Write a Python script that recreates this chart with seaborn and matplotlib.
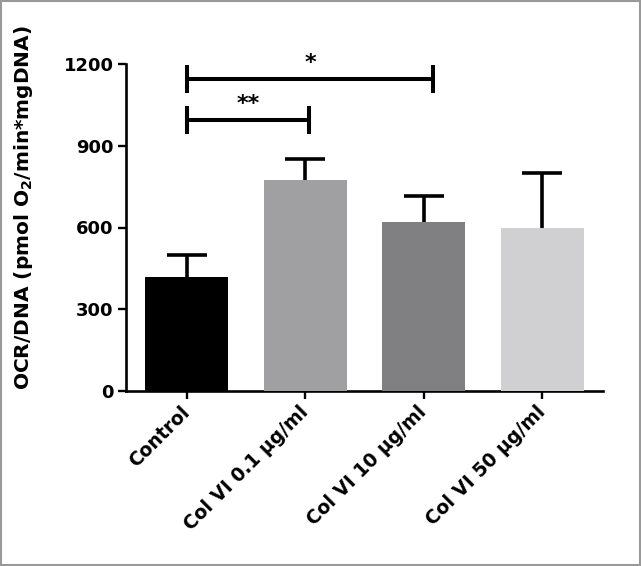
import matplotlib
matplotlib.use("Agg")
import matplotlib.pyplot as plt
import seaborn as sns
import pandas as pd
import numpy as np
from matplotlib.patches import Rectangle

categories = ["Control", "Col VI 0.1 μg/ml", "Col VI 10 μg/ml", "Col VI 50 μg/ml"]
means = [418, 774, 619, 597]
errors = [82, 78, 98, 202]
colors = ["#000000", "#a0a0a3", "#808083", "#d0d0d2"]
yticks = [0, 300, 600, 900, 1200]
# significance: (left index, right index, bracket height value, label)
sig_pairs = [(0, 1, 994, "**"), (0, 2, 1145, "*")]

sns.set_theme(style="ticks")
plt.rcParams["font.family"] = ["DejaVu Sans"]
plt.rcParams["mathtext.fontset"] = "dejavusans"
for k in ["text.color", "axes.labelcolor", "xtick.color", "ytick.color"]:
    plt.rcParams[k] = "black"

df = pd.DataFrame({"group": categories, "value": means})

fig = plt.figure(figsize=(6.41, 5.66), dpi=100)
fig.patch.set_facecolor("white")
ax = fig.add_axes([126/641, 1-391/566, (603-126)/641, (391-64)/566])

sns.barplot(data=df, x="group", y="value", hue="group", palette=colors,
            errorbar=None, width=0.70, legend=False, ax=ax, saturation=1,
            zorder=3, linewidth=0)
x = np.arange(len(categories))
ax.errorbar(x, means, yerr=[means, errors], fmt="none",
            ecolor="black", elinewidth=2.6, capsize=14.5, capthick=2.6, zorder=2)

ax.set_xlim(-0.51, 3.51)
ax.set_ylim(0, 1200)
ax.set_yticks(yticks)
ax.set_yticklabels([str(v) for v in yticks], fontsize=13, fontweight="bold")
ax.set_xticks(x)
ax.set_xticklabels(categories, rotation=45, ha="right", va="center",
                   rotation_mode="anchor", fontsize=13.5, fontweight="bold")
ax.set_xlabel("")
ax.set_ylabel(r"OCR/DNA (pmol O$_\mathbf{2}$/min*mgDNA)", fontsize=14.5,
              fontweight="bold")
ax.yaxis.set_label_coords(-0.19, 0.56)

for s in ["top", "right"]:
    ax.spines[s].set_visible(False)
for s in ["left", "bottom"]:
    ax.spines[s].set_linewidth(1.9)
    ax.spines[s].set_color("black")
ax.tick_params(axis="both", width=1.7, length=6, color="black", pad=3)
ax.tick_params(axis="x", pad=7)
ax.set_facecolor("white")

# significance brackets
offs = [0, 0.033, 0.08]
for li, ri, h, lab in sig_pairs:
    xl = x[li] + offs[li]
    xr = x[ri] + offs[ri]
    ax.plot([xl, xr], [h, h], color="black", lw=2.9, clip_on=False, zorder=4,
            solid_capstyle="butt")
    for xx in (xl, xr):
        ax.plot([xx, xx], [h - 52, h + 52], color="black", lw=2.9,
                clip_on=False, zorder=4, solid_capstyle="butt")
    ax.text((xl + xr) / 2, h + 22, lab, ha="center", va="bottom",
            fontsize=16, fontweight="bold", clip_on=False)

fig.patches.append(Rectangle((0.0015, 0.0018), 0.997, 0.9964, transform=fig.transFigure,
                             fill=False, edgecolor="#999999", linewidth=1.5))

fig.savefig("out.png", dpi=100)
